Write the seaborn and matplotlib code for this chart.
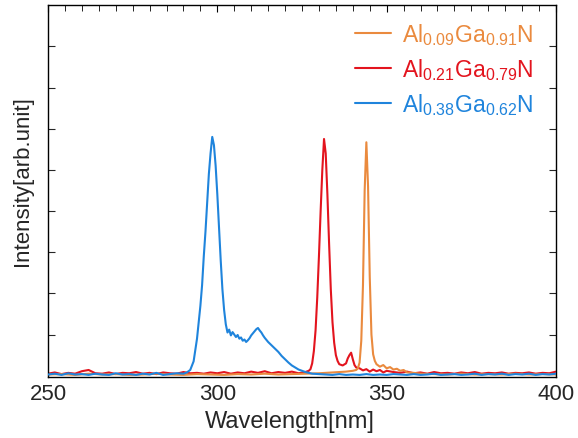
import numpy as np
import pandas as pd
import matplotlib
matplotlib.use("Agg")
import matplotlib.pyplot as plt
import seaborn as sns

# Photoluminescence spectra of three AlGaN layers (intensity in arbitrary units)
labels = [r"Al$_{0.09}$Ga$_{0.91}$N", r"Al$_{0.21}$Ga$_{0.79}$N", r"Al$_{0.38}$Ga$_{0.62}$N"]
colors = ["#EA8A3E", "#E3141E", "#1F84DC"]

wl_orange = [250, 254, 258, 262, 266, 270, 274, 278, 282, 286, 290, 294, 298, 302, 306,
             310, 314, 318, 322, 326, 330, 334, 338, 340, 341, 341.5, 342, 342.5, 343,
             343.5, 344, 344.5, 345, 345.5, 346, 346.5, 347, 348, 349, 350, 351, 352,
             353, 354, 355, 356, 358, 360, 364, 368, 372, 376, 380, 384, 388, 392, 396, 400]
int_orange = [0.03, 0.04, 0.02, 0.05, 0.03, 0.04, 0.02, 0.03, 0.05, 0.03, 0.02, 0.04, 0.03, 0.02, 0.04,
              0.03, 0.05, 0.03, 0.04, 0.05, 0.06, 0.08, 0.10, 0.12, 0.14, 0.18, 0.32, 0.85, 2.2,
              4.5, 5.67, 4.6, 2.4, 1.0, 0.52, 0.36, 0.28, 0.22, 0.26, 0.18, 0.21, 0.15,
              0.17, 0.12, 0.14, 0.08, 0.07, 0.05, 0.04, 0.03, 0.05, 0.03, 0.04, 0.03, 0.05, 0.03, 0.04, 0.03]

wl_red = [250, 252, 254, 256, 258, 260, 262, 264, 266, 268, 270, 272, 274, 276, 278, 280,
          282, 284, 286, 288, 290, 292, 294, 296, 298, 300, 302, 304, 306, 308, 310, 312,
          314, 316, 318, 320, 322, 324, 326, 327, 327.5, 328, 328.5, 329, 329.5, 330, 330.5,
          331, 331.5, 332, 332.5, 333, 333.5, 334, 334.5, 335, 335.5, 336, 337, 338, 338.5,
          339, 339.5, 340, 340.5, 341, 342, 343, 344, 345, 346, 347, 348, 349, 350, 352,
          354, 356, 358, 360, 362, 364, 366, 368, 370, 372, 374, 376, 378, 380, 382, 384,
          386, 388, 390, 392, 394, 396, 398, 400]
int_red = [0.05, 0.08, 0.04, 0.07, 0.05, 0.11, 0.14, 0.06, 0.05, 0.08, 0.04, 0.07, 0.06, 0.09, 0.05, 0.07,
           0.04, 0.08, 0.06, 0.05, 0.09, 0.06, 0.07, 0.05, 0.08, 0.06, 0.09, 0.05, 0.08, 0.06, 0.10, 0.07,
           0.11, 0.06, 0.09, 0.07, 0.10, 0.06, 0.09, 0.12, 0.16, 0.30, 0.60, 1.1, 1.9, 2.9, 4.0,
           5.0, 5.75, 5.4, 4.4, 3.2, 2.1, 1.3, 0.80, 0.50, 0.36, 0.28, 0.25, 0.30, 0.42,
           0.50, 0.56, 0.40, 0.26, 0.20, 0.18, 0.13, 0.16, 0.10, 0.15, 0.11, 0.14, 0.08, 0.12, 0.09,
           0.07, 0.10, 0.06, 0.08, 0.05, 0.09, 0.06, 0.07, 0.05, 0.08, 0.06, 0.09, 0.05, 0.07, 0.06, 0.08,
           0.05, 0.07, 0.06, 0.08, 0.05, 0.07, 0.06, 0.10]

wl_blue = [250, 252, 254, 256, 258, 260, 262, 264, 266, 268, 270, 272, 274, 276, 278, 280,
           282, 284, 286, 288, 290, 291, 292, 293, 294, 295, 295.5, 296, 296.5, 297, 297.5,
           298, 298.5, 299, 299.5, 300, 300.5, 301, 301.5, 302, 302.5, 303, 303.5, 304,
           304.5, 305, 305.5, 306, 306.5, 307, 307.5, 308, 308.5, 309, 309.5, 310, 310.5,
           311, 311.5, 312, 312.5, 313, 313.5, 314, 315, 316, 317, 318, 319, 320, 321, 322,
           323, 324, 325, 326, 327, 328, 330, 332, 334, 336, 338, 340, 342, 344, 346, 348,
           350, 352, 354, 356, 358, 360, 362, 364, 366, 368, 370, 372, 374, 376, 378, 380,
           382, 384, 386, 388, 390, 392, 394, 396, 398, 400]
int_blue = [0.03, 0.05, 0.02, 0.06, 0.03, 0.04, 0.02, 0.05, 0.03, 0.02, 0.06, 0.03, 0.04, 0.02, 0.05, 0.03,
            0.07, 0.02, 0.04, 0.06, 0.05, 0.08, 0.14, 0.35, 0.90, 1.7, 2.2, 2.9, 3.5, 4.2, 4.9,
            5.4, 5.8, 5.6, 5.1, 4.4, 3.6, 2.8, 2.1, 1.6, 1.25, 1.05, 1.12, 0.98,
            1.06, 1.0, 0.94, 0.99, 0.90, 0.93, 0.85, 0.88, 0.82, 0.86, 0.91, 0.98, 1.03,
            1.08, 1.13, 1.16, 1.10, 1.05, 0.98, 0.92, 0.82, 0.74, 0.66, 0.58, 0.48, 0.40, 0.32, 0.25,
            0.20, 0.15, 0.12, 0.09, 0.07, 0.05, 0.04, 0.03, 0.02, 0.04, 0.02, 0.03, 0.02, 0.04, 0.02, 0.03,
            0.02, 0.04, 0.03, 0.02, 0.04, 0.02, 0.03, 0.05, 0.02, 0.03, 0.04, 0.02, 0.03, 0.05, 0.02, 0.04,
            0.03, 0.05, 0.02, 0.04, 0.03, 0.05, 0.02, 0.04, 0.03, 0.05]

sns.set_style("ticks")
plt.rcParams["font.family"] = ["Liberation Sans", "DejaVu Sans"]
plt.rcParams["mathtext.fontset"] = "custom"
plt.rcParams["mathtext.rm"] = "Liberation Sans"
plt.rcParams["mathtext.it"] = "Liberation Sans:italic"
plt.rcParams["mathtext.default"] = "regular"

fig = plt.figure(figsize=(5.78, 4.39), dpi=100)
ax = fig.add_axes([0.083, 0.139, 0.879, 0.847])

series = [
    (wl_orange, int_orange, labels[0], colors[0], 2),
    (wl_red, int_red, labels[1], colors[1], 1),
    (wl_blue, int_blue, labels[2], colors[2], 3),
]
for wl, inten, lab, col, z in series:
    df = pd.DataFrame({"Wavelength": wl, "Intensity": inten})
    sns.lineplot(data=df, x="Wavelength", y="Intensity", ax=ax, color=col,
                 linewidth=1.5, label=lab, estimator=None, sort=False, zorder=z)

ax.set_xlim(250, 400)
ax.set_ylim(-0.03, 9)
ax.set_xticks([250, 300, 350, 400])
ax.set_xticks(np.arange(255, 400, 5), minor=True)
ax.set_yticks(np.arange(1, 9, 1))
ax.set_yticklabels([])
ax.tick_params(axis="x", which="both", direction="in", bottom=False, top=True,
               labelsize=16, pad=4, length=5, color="black")
ax.tick_params(axis="x", which="minor", length=4, top=True, bottom=False)
ax.tick_params(axis="y", direction="in", left=True, right=True, length=5)
for s in ax.spines.values():
    s.set_linewidth(1.0)
    s.set_color("black")

ax.set_xlabel("Wavelength[nm]", fontsize=17, labelpad=5)
ax.xaxis.label.set_x(0.477)
ax.set_ylabel("Intensity[arb.unit]", fontsize=16, labelpad=7)
ax.yaxis.label.set_y(0.53)

leg = ax.legend(loc="upper right", frameon=False, fontsize=16.5, handlelength=1.6,
                handletextpad=0.45, labelspacing=0.4, borderaxespad=0.0, borderpad=0.0,
                bbox_to_anchor=(0.955, 0.957))
for txt, col in zip(leg.get_texts(), colors):
    txt.set_color(col)

fig.savefig("out.png", dpi=100)
